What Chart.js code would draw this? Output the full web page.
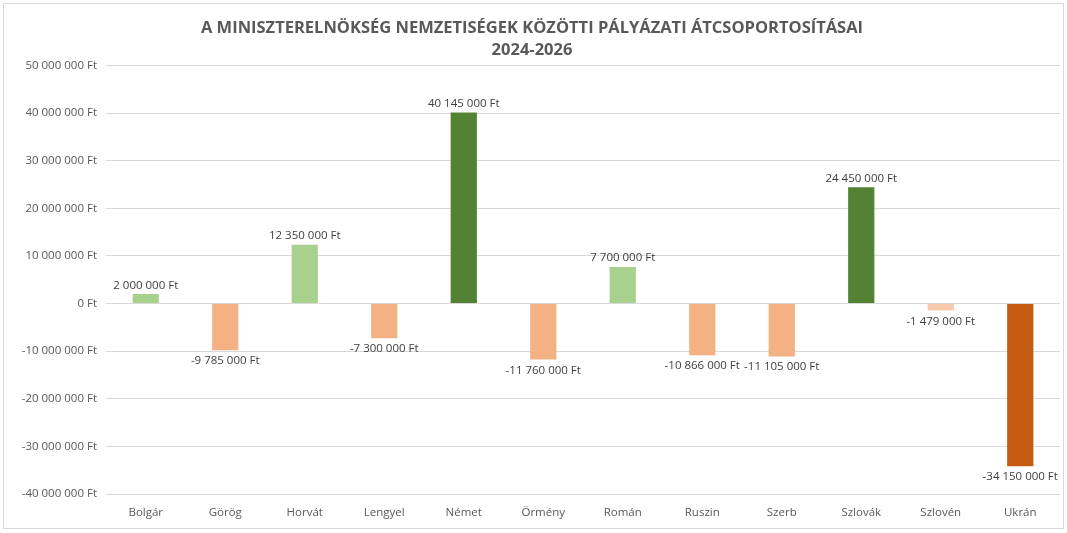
<!DOCTYPE html>
<html>
<head>
<meta charset="utf-8">
<script src="https://cdn.jsdelivr.net/npm/chart.js@4/dist/chart.umd.min.js"></script>
<style>
    html, body { margin: 0; padding: 0; background: #fff; }
    #box {
        position: absolute; left: 3px; top: 3px;
        width: 1059px; height: 524px;
        border: 1px solid #d9d9d9;
    }
    #myChart { position: absolute; left: 0; top: 0; }
</style>
</head>
<body>
<div id="box"><canvas id="myChart" width="1059" height="524"></canvas></div>
<script>
const nations = ['Bolgár', 'Görög', 'Horvát', 'Lengyel', 'Német', 'Örmény', 'Román', 'Ruszin', 'Szerb', 'Szlovák', 'Szlovén', 'Ukrán'];
const amounts = [2000000, -9785000, 12350000, -7300000, 40145000, -11760000, 7700000, -10866000, -11105000, 24450000, -1479000, -34150000];
const barColors = ['#a9d18e', '#f4b183', '#a9d18e', '#f4b183', '#548235', '#f4b183', '#a9d18e', '#f4b183', '#f4b183', '#548235', '#f8cbad', '#c55a11'];

function ft(v) {
    const s = Math.abs(v).toString().replace(/\B(?=(\d{3})+(?!\d))/g, ' ');
    return (v < 0 ? '-' : '') + s + ' Ft';
}

// value labels on top / under the bars
const barLabels = {
    id: 'barLabels',
    afterDatasetsDraw(chart) {
        const ctx = chart.ctx;
        const meta = chart.getDatasetMeta(0);
        ctx.save();
        ctx.font = '11.5px "Open Sans", sans-serif';
        ctx.fillStyle = '#404040';
        ctx.textAlign = 'center';
        meta.data.forEach((bar, i) => {
            const v = amounts[i];
            if (v >= 0) {
                ctx.textBaseline = 'bottom';
                ctx.fillText(ft(v), bar.x, bar.y - 3);
            } else {
                ctx.textBaseline = 'top';
                ctx.fillText(ft(v), bar.x, bar.y + 5);
            }
        });
        ctx.restore();
    }
};

var ctx = document.getElementById('myChart').getContext('2d');

var myChart = new Chart(ctx, { //eslint-disable-line
    type: 'bar',
    data: {
        labels: nations,
        datasets: [
            {
                data: amounts,
                backgroundColor: barColors,
                borderWidth: 0,
                barPercentage: 0.33,
                categoryPercentage: 1
            }
        ]
    },
    plugins: [barLabels],
    options: {
        responsive: false,
        animation: false,
        layout: { padding: { left: 0, right: 3, top: 0, bottom: 4 } },
        plugins: {
            legend: { display: false },
            tooltip: { enabled: false },
            title: {
                display: true,
                text: ['A MINISZTERELNÖKSÉG NEMZETISÉGEK KÖZÖTTI PÁLYÁZATI ÁTCSOPORTOSÍTÁSAI', '2024-2026'],
                color: '#595959',
                font: { family: '"Open Sans", sans-serif', size: 16.5, weight: 'bold', lineHeight: 1.35 },
                padding: { top: 13, bottom: 4 }
            }
        },
        scales: {
            x: {
                grid: { display: false },
                border: { display: false },
                afterFit(scale) { scale.height = 30; },
                ticks: {
                    color: '#595959',
                    font: { family: '"Open Sans", sans-serif', size: 11.5 },
                    padding: 4
                }
            },
            y: {
                min: -40000000,
                max: 50000000,
                border: { display: false },
                grid: { color: '#d9d9d9', drawTicks: false },
                afterFit(scale) { scale.width = 102; },
                ticks: {
                    stepSize: 10000000,
                    color: '#595959',
                    font: { family: '"Open Sans", sans-serif', size: 11.5 },
                    padding: 9,
                    callback: v => ft(v)
                }
            }
        }
    }
});
</script>
</body>
</html>
